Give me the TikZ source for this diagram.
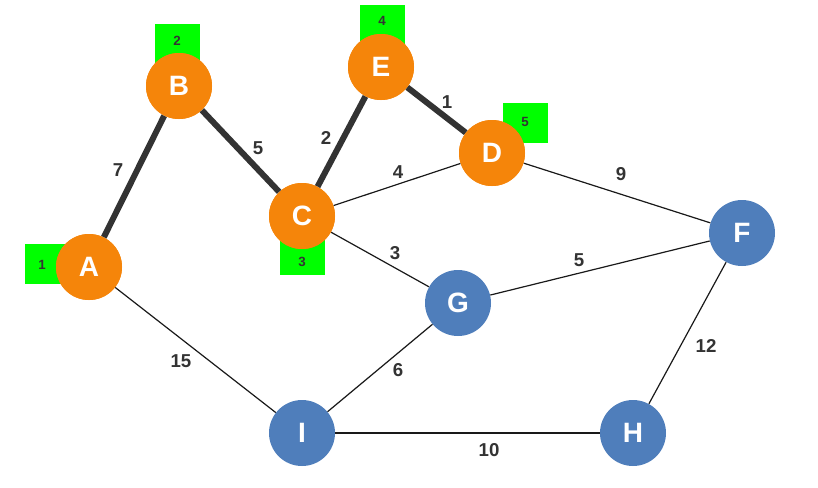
\documentclass[tikz,border=0pt]{standalone}
\usepackage{fontspec}
\setmainfont{Liberation Sans}
\begin{document}
\begin{tikzpicture}[x=0.75pt,y=-0.75pt,
  v/.style={circle,minimum size=49.5pt,inner sep=0pt,text=white,font=\fontsize{21}{21}\selectfont\bfseries},
  on/.style={v,fill=orng},
  off/.style={v,fill=blu},
  tag/.style={fill=grn,minimum width=33.75pt,minimum height=30pt,inner sep=0pt},
  tl/.style={text=black!80,font=\fontsize{10}{10}\selectfont\bfseries},
  tree/.style={line width=4.5pt,draw=black!80},
  thin/.style={line width=0.9pt,draw=black!90},
  w/.style={text=black!80,font=\fontsize{14}{14}\selectfont\bfseries}]
\definecolor{orng}{HTML}{F5850A}
\definecolor{blu}{HTML}{4F7EBB}
\definecolor{grn}{HTML}{00FF00}
\useasboundingbox (0,0) rectangle (818,487);
% green tags
\node[tag] (tA) at (47,264) {};
\node[tag] (tB) at (177,44) {};
\node[tag] (tE) at (382,25) {};
\node[tag] (tD) at (525,123) {};
\node[tag] (tC) at (302,255) {};
% blue nodes
\node[off] (F) at (742,233) {F};
\node[off] (G) at (458,303) {G};
\node[off] (I) at (302,433) {I};
\node[off] (H) at (633,433) {H};
% orange nodes (coordinates first, drawn after edges)
\coordinate (pA) at (89,267);
\coordinate (pB) at (179,86);
\coordinate (pE) at (381,67);
\coordinate (pD) at (492,153);
\coordinate (pC) at (302,216);
\node[on] (A) at (pA) {A};
\node[on] (B) at (pB) {B};
\node[on] (E) at (pE) {E};
\node[on] (D) at (pD) {D};
\node[on] (C) at (pC) {C};
% edges
\path[tree] (A) -- (B);
\path[tree] (B) -- (C);
\path[tree] (C) -- (E);
\path[tree] (E) -- (D);
\path[thin] (C) -- (D);
\path[thin] (C) -- (G);
\path[thin] (D) -- (F);
\path[thin] (G) -- (F);
\path[thin] (F) -- (H);
\path[thin] (A) -- (I);
\path[thin] (I) -- (G);
\path[thin] (I) -- (H);
% redraw orange nodes on top of edges
\node[on] at (pA) {A};
\node[on] at (pB) {B};
\node[on] at (pE) {E};
\node[on] at (pD) {D};
\node[on] at (pC) {C};
% tag labels
\node[tl] (lA) at (42,265) {1};
\node[tl] (lB) at (177,41) {2};
\node[tl] (lE) at (382,21) {4};
\node[tl] (lD) at (525,122) {5};
\node[tl] (lC) at (302,262) {3};
% weights
\node[w] (w1) at (118,170) {7};
\node[w] (w2) at (258,148) {5};
\node[w] (w3) at (326,138) {2};
\node[w] (w4) at (447,102) {1};
\node[w] (w5) at (398,172) {4};
\node[w] (w6) at (395,253) {3};
\node[w] (w7) at (621,174) {9};
\node[w] (w8) at (579,260) {5};
\node[w] (w9) at (706,346) {12};
\node[w] (w10) at (181,361) {15};
\node[w] (w11) at (398,370) {6};
\node[w] (w12) at (489,450) {10};
\end{tikzpicture}
\end{document}
